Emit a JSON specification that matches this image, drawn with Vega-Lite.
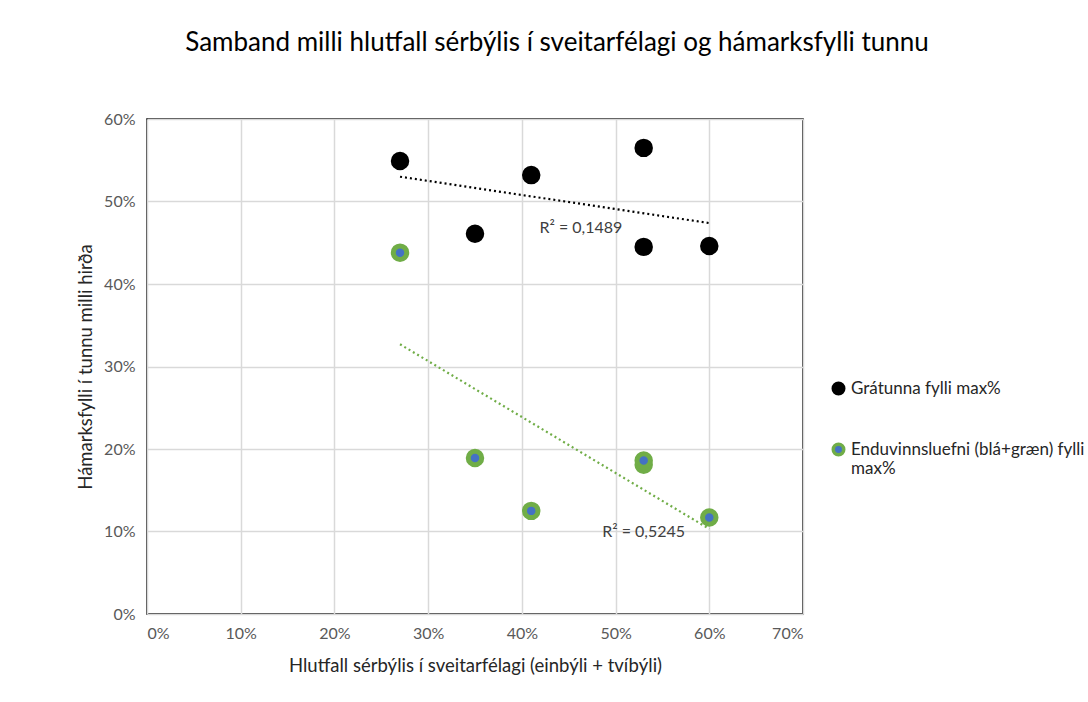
{
  "$schema": "https://vega.github.io/schema/vega-lite/v6.json",
  "autosize": {"type": "none"},
  "width": 656,
  "height": 495,
  "padding": {"left": 147, "top": 119, "right": 285, "bottom": 88},
  "background": "white",
  "title": {
    "text": "Samband milli hlutfall sérbýlis í sveitarfélagi og hámarksfylli tunnu",
    "font": "Lato",
    "fontSize": 26,
    "fontWeight": "normal",
    "color": "#000000",
    "anchor": "middle",
    "dx": 82,
    "offset": 55
  },
  "datasets": {
    "pts": [
      {"x": 0.27, "gratunna": 0.549, "enduvinnsla": 0.438},
      {"x": 0.35, "gratunna": 0.461, "enduvinnsla": 0.189},
      {"x": 0.41, "gratunna": 0.532, "enduvinnsla": 0.125},
      {"x": 0.53, "gratunna": 0.565, "enduvinnsla": 0.181},
      {"x": 0.53, "gratunna": 0.445, "enduvinnsla": 0.186},
      {"x": 0.60, "gratunna": 0.446, "enduvinnsla": 0.117}
    ],
    "notes": [
      {"x": 0.463, "y": 0.468, "label": "R² = 0,1489"},
      {"x": 0.53, "y": 0.099, "label": "R² = 0,5245"}
    ]
  },
  "config": {
    "font": "Lato",
    "view": {"stroke": "#000000", "strokeWidth": 1.5},
    "axis": {
      "labelFont": "Lato",
      "titleFont": "Lato",
      "labelFontSize": 16,
      "titleFontSize": 18.5,
      "labelColor": "#595959",
      "titleColor": "#262626",
      "titleFontWeight": "normal",
      "gridColor": "#D9D9D9",
      "gridWidth": 1.5,
      "domain": false,
      "ticks": false
    }
  },
  "layer": [
    {
      "data": {"name": "pts"},
      "transform": [{"fold": ["gratunna", "enduvinnsla"], "as": ["series", "value"]}],
      "mark": {"type": "point", "filled": false, "shape": "circle", "size": 182, "strokeWidth": 5, "opacity": 1},
      "encoding": {
        "x": {
          "field": "x", "type": "quantitative",
          "scale": {"domain": [0, 0.7], "nice": false},
          "axis": {"format": ".0%", "values": [0, 0.1, 0.2, 0.3, 0.4, 0.5, 0.6, 0.7], "labelPadding": 11, "titlePadding": 15, "title": "Hlutfall sérbýlis í sveitarfélagi (einbýli + tvíbýli)"}
        },
        "y": {
          "field": "value", "type": "quantitative",
          "scale": {"domain": [0, 0.6], "nice": false},
          "axis": {"format": ".0%", "values": [0, 0.1, 0.2, 0.3, 0.4, 0.5, 0.6], "labelPadding": 12, "titlePadding": 8, "title": "Hámarksfylli í tunnu milli hirða"}
        },
        "fill": {
          "field": "series", "type": "nominal",
          "scale": {"domain": ["gratunna", "enduvinnsla"], "range": ["#000000", "#4472C4"]},
          "legend": {
            "title": null,
            "orient": "none",
            "legendX": 683,
            "legendY": 261,
            "padding": 0,
            "rowPadding": 36,
            "symbolSize": 110,
            "symbolStrokeWidth": 3.5,
            "labelFont": "Lato",
            "labelFontSize": 17,
            "labelColor": "#262626",
            "labelOffset": 4,
            "labelLimit": 400,
            "labelExpr": "datum.value == 'gratunna' ? 'Grátunna fylli max%' : ['Enduvinnsluefni (blá+græn) fylli', 'max%']"
          }
        },
        "stroke": {
          "field": "series", "type": "nominal",
          "scale": {"domain": ["gratunna", "enduvinnsla"], "range": ["#000000", "#70AD47"]}
        }
      }
    },
    {
      "data": {"name": "pts"},
      "transform": [
        {"fold": ["gratunna"], "as": ["series", "value"]},
        {"regression": "value", "on": "x"}
      ],
      "mark": {"type": "line", "color": "#000000", "strokeDash": [2, 3], "strokeWidth": 2.2},
      "encoding": {
        "x": {"field": "x", "type": "quantitative"},
        "y": {"field": "value", "type": "quantitative"}
      }
    },
    {
      "data": {"name": "pts"},
      "transform": [
        {"fold": ["enduvinnsla"], "as": ["series", "value"]},
        {"regression": "value", "on": "x"}
      ],
      "mark": {"type": "line", "color": "#70AD47", "strokeDash": [2, 3], "strokeWidth": 2.2},
      "encoding": {
        "x": {"field": "x", "type": "quantitative"},
        "y": {"field": "value", "type": "quantitative"}
      }
    },
    {
      "data": {"name": "notes"},
      "mark": {"type": "text", "font": "Lato", "fontSize": 16, "color": "#404040", "align": "center", "baseline": "middle"},
      "encoding": {
        "x": {"field": "x", "type": "quantitative"},
        "y": {"field": "y", "type": "quantitative"},
        "text": {"field": "label"}
      }
    }
  ]
}
